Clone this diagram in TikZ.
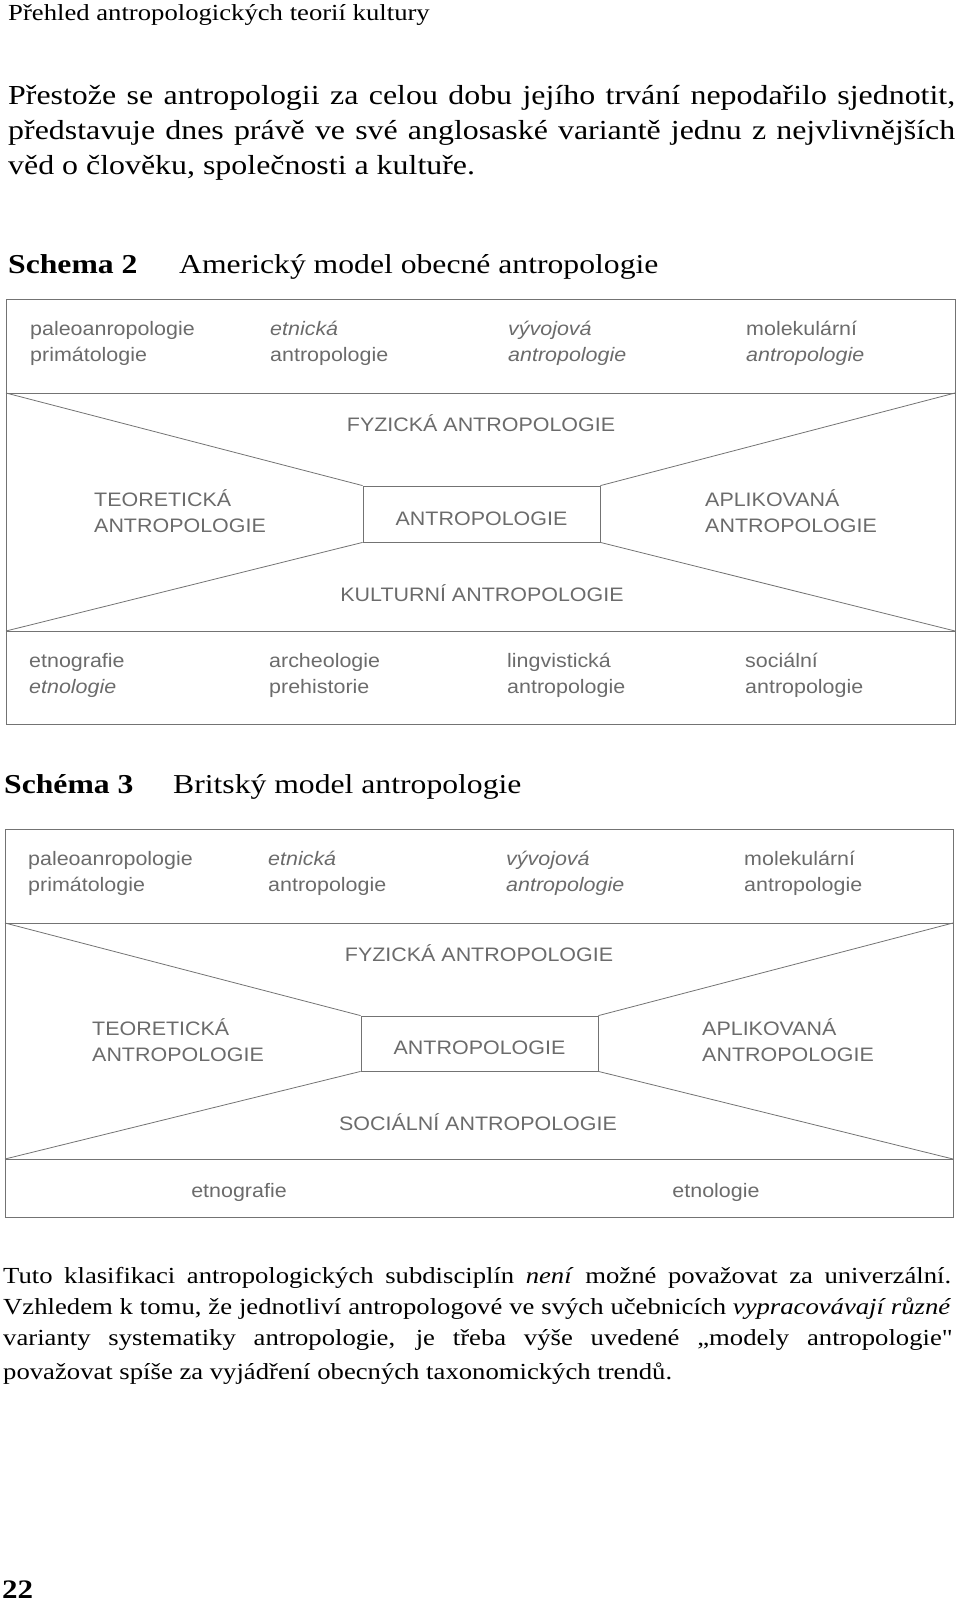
\documentclass[tikz,border=0pt]{standalone}
\usepackage{fontspec}
\setmainfont{Liberation Serif}[FakeStretch=1.16]
\setsansfont{Liberation Sans}[FakeStretch=1.1]

\begin{document}
\begin{tikzpicture}[
  x=1pt, y=-1pt,
  txt/.style={anchor=base west, inner sep=0pt},
  body/.style={txt, font=\fontsize{27.5}{33}\selectfont},
  small/.style={txt, font=\fontsize{23}{27}\selectfont},
  head/.style={txt, font=\fontsize{27.3}{30}\selectfont},
  headb/.style={txt, font=\fontsize{27.3}{30}\selectfont\bfseries},
  frame/.style={draw=black!55, line width=0.8pt},
  lbl/.style={inner sep=0pt, text=black!58, font=\sffamily\fontsize{19.5}{26}\selectfont},
  cell/.style={lbl, anchor=west, align=left},
  core/.style={frame, lbl, text height=22pt, text depth=0pt, minimum width=237pt, minimum height=56pt}]
  \useasboundingbox (0,0) rectangle (960,1603);

  \node[txt, font=\fontsize{23}{26}\selectfont] (runhead) at (8,21) {Přehled antropologických teorií kultury};

  \node[body] (intro-1) at (8,104) {\makebox[947pt][s]{Přestože se antropologii za celou dobu jejího trvání nepodařilo sjednotit,}};
  \node[body] (intro-2) at (8,139) {\makebox[947pt][s]{představuje dnes právě ve své anglosaské variantě jednu z nejvlivnějších}};
  \node[body] (intro-3) at (8,174) {věd o člověku, společnosti a kultuře.};

  % Schema 2
  \node[headb] (s2-no) at (8,273) {Schema 2};
  \node[head] (s2-title) at (179,273) {Americký model obecné antropologie};

  \coordinate (A-tl) at (6,299);
  \coordinate (A-br) at (955,724);
  \coordinate (A-ul) at (6,393);
  \coordinate (A-ur) at (955,393);
  \coordinate (A-ll) at (6,631);
  \coordinate (A-lr) at (955,631);
  \draw[frame] (A-tl) rectangle (A-br);
  \draw[frame] (A-ul) -- (A-ur) (A-ll) -- (A-lr);
  \node[core] (A-core) at (481.5,514) {ANTROPOLOGIE};
  \foreach \c/\a in {ul/north west, ur/north east, ll/south west, lr/south east}
    \draw[frame] (A-\c) -- (A-core.\a);

  \node[cell] (A-paleo) at (30,343.5) {paleoanropologie\\primátologie};
  \node[cell] (A-etn) at (270,343.5) {\textit{etnická}\\antropologie};
  \node[cell] (A-vyv) at (508,343.5) {\textit{vývojová}\\\textit{antropologie}};
  \node[cell] (A-mol) at (746,343.5) {molekulární\\\textit{antropologie}};
  \node[lbl] (A-fyz) at (481,423) {FYZICKÁ ANTROPOLOGIE};
  \node[cell] (A-teor) at (94,511.5) {TEORETICKÁ\\ANTROPOLOGIE};
  \node[cell] (A-apl) at (705,511.5) {APLIKOVANÁ\\ANTROPOLOGIE};
  \node[lbl] (A-kult) at (482,593) {KULTURNÍ ANTROPOLOGIE};
  \node[cell] (A-etg) at (29,675) {etnografie\\\textit{etnologie}};
  \node[cell] (A-arch) at (269,675) {archeologie\\prehistorie};
  \node[cell] (A-ling) at (507,675) {lingvistická\\antropologie};
  \node[cell] (A-soc) at (745,675) {sociální\\antropologie};

  % Schema 3
  \node[headb] (s3-no) at (4,793) {Schéma 3};
  \node[head] (s3-title) at (173,793) {Britský model antropologie};

  \coordinate (B-tl) at (5,829);
  \coordinate (B-br) at (953,1217);
  \coordinate (B-ul) at (5,923);
  \coordinate (B-ur) at (953,923);
  \coordinate (B-ll) at (5,1159);
  \coordinate (B-lr) at (953,1159);
  \draw[frame] (B-tl) rectangle (B-br);
  \draw[frame] (B-ul) -- (B-ur) (B-ll) -- (B-lr);
  \node[core, minimum height=55pt] (B-core) at (479.5,1043.5) {ANTROPOLOGIE};
  \foreach \c/\a in {ul/north west, ur/north east, ll/south west, lr/south east}
    \draw[frame] (B-\c) -- (B-core.\a);

  \node[cell] (B-paleo) at (28,873.5) {paleoanropologie\\primátologie};
  \node[cell] (B-etn) at (268,873.5) {\textit{etnická}\\antropologie};
  \node[cell] (B-vyv) at (506,873.5) {\textit{vývojová}\\\textit{antropologie}};
  \node[cell] (B-mol) at (744,873.5) {molekulární\\antropologie};
  \node[lbl] (B-fyz) at (479,953) {FYZICKÁ ANTROPOLOGIE};
  \node[cell] (B-teor) at (92,1040.5) {TEORETICKÁ\\ANTROPOLOGIE};
  \node[cell] (B-apl) at (702,1040.5) {APLIKOVANÁ\\ANTROPOLOGIE};
  \node[lbl] (B-soc) at (478,1122) {SOCIÁLNÍ ANTROPOLOGIE};
  \node[lbl] (B-etg) at (239,1192) {etnografie};
  \node[lbl] (B-etl) at (716,1192) {etnologie};

  \node[small] (outro-1) at (3,1283) {\makebox[948pt][s]{Tuto klasifikaci antropologických subdisciplín \textit{není} možné považovat za univerzální.}};
  \node[small] (outro-2) at (3,1314) {\makebox[948pt][s]{Vzhledem k tomu, že jednotliví antropologové ve svých učebnicích \textit{vypracovávají různé}}};
  \node[small] (outro-3) at (3,1345) {\makebox[948pt][s]{varianty systematiky antropologie, je třeba výše uvedené „modely antropologie\textquotedbl}};
  \node[small] (outro-4) at (3,1379) {považovat spíše za vyjádření obecných taxonomických trendů.};

  \node[txt, font=\fontsize{26.7}{30}\selectfont\bfseries] (pageno) at (2,1598) {22};
\end{tikzpicture}
\end{document}
